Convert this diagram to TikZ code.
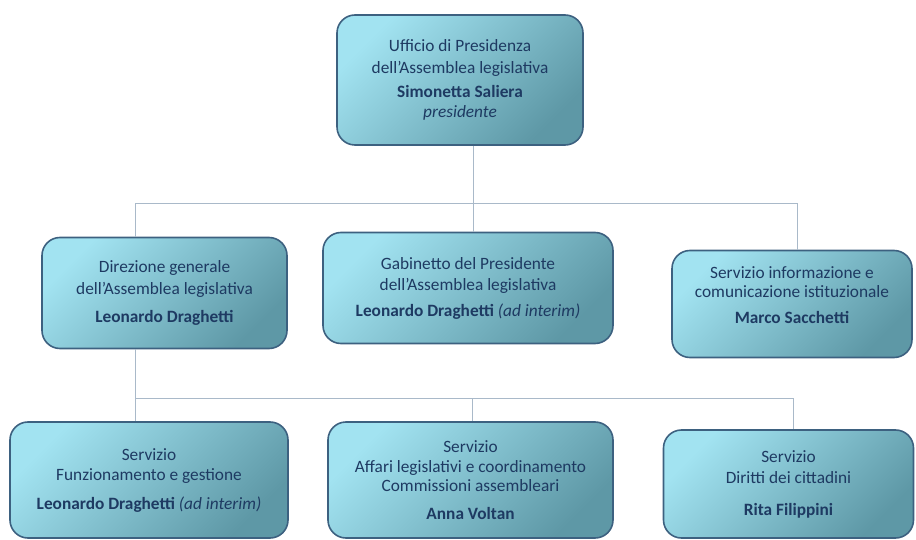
\documentclass[tikz,border=0pt]{standalone}
\usepackage{fontspec}
\setmainfont{Carlito}
\usepackage{xcolor}
\usepackage{tikz}
\usetikzlibrary{positioning}
\definecolor{boxlight}{HTML}{A2E3F1}
\definecolor{boxdark}{HTML}{5E98A6}
\definecolor{boxedge}{HTML}{3D6180}
\definecolor{boxtext}{HTML}{1E3A62}
\definecolor{linkcol}{HTML}{A9B9C9}

\begin{document}
\begin{tikzpicture}[x=1pt, y=-1pt,
  office/.style={draw=boxedge, line width=1.6pt, rounded corners=18pt, shading=axis, top color=boxlight, bottom color=boxdark, shading angle=45, text=boxtext, font=\fontsize{17.3}{21.5}\selectfont, align=center, inner sep=0pt},
  link/.style={draw=linkcol, line width=0.9pt}]
\useasboundingbox (0,0) rectangle (916,540);
% first level
\node[office, minimum width=246, minimum height=130] (b1) at (460,80) {Ufficio di Presidenza\\dell’Assemblea legislativa\\[3pt]\textbf{Simonetta Saliera}\\[-2pt]\textit{presidente}};
% second level
\node[office, minimum width=245, minimum height=111] (b2) at (164.5,293) {Direzione generale\\dell’Assemblea legislativa\\[7pt]\textbf{Leonardo Draghetti}};
\node[office, minimum width=290, minimum height=111] (b3) at (468,288) {Gabinetto del Presidente\\dell’Assemblea legislativa\\[4pt]\textbf{Leonardo Draghetti} \textit{(ad interim)}};
\node[office, minimum width=240, minimum height=107] (b4) at (792,304) {Servizio informazione e\\[-3pt]comunicazione istituzionale\\[5pt]\textbf{Marco Sacchetti}\\[-4pt]\mbox{}};
% third level
\node[office, minimum width=278, minimum height=116] (b5) at (149,480) {\mbox{}\\[-8pt]Servizio\\[-2pt]Funzionamento e gestione\\[8pt]\textbf{Leonardo Draghetti} \textit{(ad interim)}};
\node[office, minimum width=285, minimum height=116] (b6) at (470.5,480) {Servizio\\[-2pt]Affari legislativi e coordinamento\\[-2pt]Commissioni assembleari\\[6pt]\textbf{Anna Voltan}};
\node[office, minimum width=250, minimum height=108] (b7) at (788.5,484) {Servizio\\Diritti dei cittadini\\[10pt]\textbf{Rita Filippini}};
% junctions
\coordinate (j1) at (473,203);
\coordinate (j2) at (135,203);
\coordinate (j3) at (797,203);
\coordinate (j4) at (135,398);
\coordinate (j5) at (472,398);
\coordinate (j6) at (793,398);
\draw[link] (b1.south -| j1) -- (j1);
\draw[link] (b2.north -| j2) -- (j2) -- (j3) -- (b4.north -| j3);
\draw[link] (b3.north -| j1) -- (j1);
\draw[link] (b2.south -| j4) -- (j4) -- (j6) -- (b7.north -| j6);
\draw[link] (b5.north -| j4) -- (j4);
\draw[link] (b6.north -| j5) -- (j5);
\end{tikzpicture}
\end{document}
